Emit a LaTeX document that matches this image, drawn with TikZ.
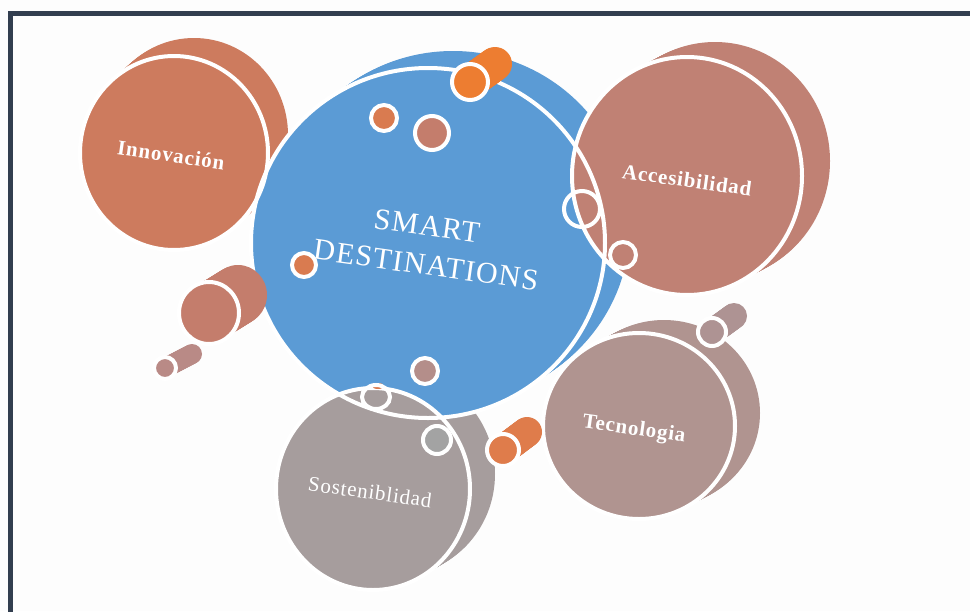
\documentclass[tikz,border=0pt]{standalone}
\usepackage{fontspec}
\setmainfont{Liberation Serif}
\newfontfamily\lblfont[LetterSpace=4]{Liberation Serif}
\newfontfamily\titlefont[LetterSpace=4]{Liberation Serif}
\usetikzlibrary{calc}
\definecolor{framec}{HTML}{323E4F}
\definecolor{bgc}{HTML}{FDFDFD}
\definecolor{bluec}{HTML}{5B9BD5}
\definecolor{innovc}{HTML}{CD7B5E}
\definecolor{accc}{HTML}{C08174}
\definecolor{tecc}{HTML}{B09490}
\definecolor{sostc}{HTML}{A69D9D}
\definecolor{orangec}{HTML}{ED7D31}
\definecolor{orangeb}{HTML}{DF7C4B}
\definecolor{orangea}{HTML}{D97B50}
\definecolor{salmonc}{HTML}{C47D6C}
\definecolor{mauvec}{HTML}{B48E8A}
\definecolor{mauveb}{HTML}{AE9393}
\definecolor{mauvea}{HTML}{B98A86}
\definecolor{greyc}{HTML}{A3A3A3}
% back body of a cylinder: cx, cy, rx, ry, dx, dy, colour
\newcommand\backbody[7]{%
  \foreach \t in {0,0.05,...,1.0}{\fill[#7] ({#1+\t*(#5)},{#2+\t*(#6)}) ellipse [x radius=#3, y radius=#4];}%
  \fill[#7] ({#1+(#5)},{#2+(#6)}) ellipse [x radius=#3, y radius=#4];%
}
\newcommand\frontface[5]{\fill[#5] (#1,#2) ellipse [x radius=#3, y radius=#4];}
\newcommand\rimline[4]{\draw[rim] (#1,#2) ellipse [x radius=#3, y radius=#4];}
\tikzset{
  rim/.style={draw=white, line width=4pt},
  lbl/.style={text=white, inner sep=0pt, rotate=-8, font=\lblfont\bfseries\fontsize{21}{24}\selectfont},
  lblr/.style={text=white, inner sep=0pt, rotate=-8, font=\lblfont\fontsize{21}{24}\selectfont},
  ttl/.style={text=white, inner sep=0pt, rotate=-8, font=\titlefont\fontsize{30}{34}\selectfont},
}
\begin{document}
\begin{tikzpicture}[x=1pt, y=-1pt]
\useasboundingbox (0,0) rectangle (970,611);
\fill[bgc] (0,0) rectangle (970,611);
\draw[framec, line width=5pt] (10,620) -- (10,13.5) -- (980,13.5);

% ---- back bodies of the big cylinders
\backbody{428}{243}{177}{175}{25}{-17}{bluec}
\backbody{174}{153}{94}{97}{20}{-18}{innovc}
\backbody{687}{176}{115}{119}{28}{-15}{accc}
\backbody{639}{426}{96}{93}{25}{-13}{tecc}
\backbody{373}{489}{97}{101}{25}{-15}{sostc}

% ---- front faces
\frontface{639}{426}{96}{93}{tecc}
\frontface{428}{243}{177}{175}{bluec}
\frontface{174}{153}{94}{97}{innovc}
\frontface{687}{176}{115}{119}{accc}
\frontface{373}{489}{97}{101}{sostc}

% ---- rims of the big cylinders
\rimline{639}{426}{96}{93}
\rimline{428}{243}{177}{175}
\rimline{174}{153}{94}{97}
\rimline{687}{176}{115}{119}
\rimline{373}{489}{97}{101}

% ---- small cylinders
\backbody{470}{82}{17}{17}{25}{-18}{orangec}
\frontface{470}{82}{17}{17}{orangec}
\rimline{470}{82}{18}{18}

\backbody{209}{313}{29}{30}{29}{-18}{salmonc}
\frontface{209}{313}{29}{30}{salmonc}
\rimline{209}{313}{30}{31}

\backbody{165}{368}{10}{10}{27}{-14}{mauvea}
\frontface{165}{368}{10}{10}{mauvea}
\rimline{165}{368}{11}{11}

\backbody{503}{450}{15}{15}{24}{-18}{orangeb}
\frontface{503}{450}{15}{15}{orangeb}
\rimline{503}{450}{16}{16}

\backbody{712}{332}{13}{13}{22}{-16}{mauveb}
\frontface{712}{332}{13}{13}{mauveb}
\rimline{712}{332}{14}{14}

% ---- small discs inside the blue face
\frontface{384}{118}{12}{12}{orangea}
\rimline{384}{118}{13}{13}
\frontface{432}{133}{16}{16}{salmonc}
\rimline{432}{133}{17}{17}
\frontface{304}{265}{11}{11}{orangea}
\rimline{304}{265}{12}{12}
\frontface{425}{371}{12}{12}{mauvec}
\rimline{425}{371}{13}{13}

% ---- open rings on the rims
\rimline{582}{209}{18}{18}
\rimline{623}{255}{13}{13}
\fill[orangea] (378,386) ellipse [x radius=6, y radius=3];
\rimline{376}{397}{14}{12}
\frontface{437}{440}{13}{13}{greyc}
\rimline{437}{440}{14}{14}

% ---- labels
\node[ttl] (tSmart) at (427,226) {SMART};
\node[ttl] (tDest) at (426,265) {DESTINATIONS};
\node[lbl] (tInnov) at (171,155) {Innovación};
\node[lbl] (tAcc) at (687,180) {Accesibilidad};
\node[lbl] (tTec) at (634,430) {Tecnologia};
\node[lblr] (tSost) at (370,492) {Sosteniblidad};
\end{tikzpicture}
\end{document}
